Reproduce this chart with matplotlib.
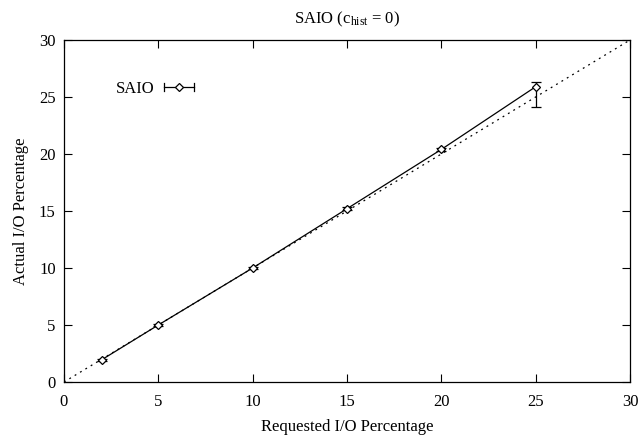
import matplotlib
matplotlib.use("Agg")
import matplotlib.pyplot as plt
from matplotlib.legend_handler import HandlerBase
from matplotlib.lines import Line2D
import numpy as np

plt.rcParams['font.family'] = ['Liberation Serif', 'DejaVu Serif']
plt.rcParams['mathtext.fontset'] = 'custom'
plt.rcParams['mathtext.rm'] = 'Liberation Serif'
plt.rcParams['mathtext.it'] = 'Liberation Serif'

requested = [2, 5, 10, 15, 20, 25]
actual = [1.95, 5.0, 10.0, 15.2, 20.4, 25.9]
err_low = [1.85, 4.9, 9.9, 15.05, 20.3, 24.1]
err_high = [2.05, 5.1, 10.1, 15.35, 20.5, 26.3]
ideal = [0, 30]
ticks = [0, 5, 10, 15, 20, 25, 30]

fig = plt.figure(figsize=(6.38, 4.37), dpi=100)
ax = fig.add_axes([0.1003, 0.1259, 0.8872, 0.7826])

ax.plot(ideal, ideal, color='black', linestyle=(0, (1.5, 3.5)), linewidth=0.9)

yerr = [np.array(actual) - np.array(err_low), np.array(err_high) - np.array(actual)]
ax.errorbar(requested, actual, yerr=yerr, color='black', linewidth=0.9,
            marker='D', markersize=4.5, markerfacecolor='white', markeredgecolor='black',
            markeredgewidth=0.9, capsize=3.5, elinewidth=0.9, capthick=0.9)


class ErrLegendHandler(HandlerBase):
    def create_artists(self, legend, orig_handle, xdescent, ydescent, width, height, fontsize, trans):
        y = height / 2.0 - ydescent
        x0, x1 = -xdescent, -xdescent + width
        line = Line2D([x0, x1], [y, y], color='black', linewidth=0.9, transform=trans)
        c0 = Line2D([x0, x0], [y - 3, y + 3], color='black', linewidth=0.9, transform=trans)
        c1 = Line2D([x1, x1], [y - 3, y + 3], color='black', linewidth=0.9, transform=trans)
        m = Line2D([(x0 + x1) / 2], [y], marker='D', markersize=4.5, markerfacecolor='white',
                   markeredgecolor='black', markeredgewidth=0.9, linestyle='none', transform=trans)
        return [line, c0, c1, m]


h = Line2D([], [])
ax.legend([h], ['SAIO'], handler_map={Line2D: ErrLegendHandler()}, loc='upper left',
          bbox_to_anchor=(0.065, 0.925), frameon=False, markerfirst=False,
          handlelength=1.8, handletextpad=0.6, fontsize=12)

ax.set_xlim(0, 30)
ax.set_ylim(0, 30)
ax.set_xticks(ticks)
ax.set_yticks(ticks)
ax.tick_params(direction='in', length=6, width=0.8, top=True, right=True, labelsize=12)
ax.tick_params(axis='x', pad=9)
ax.tick_params(axis='y', pad=6)
for s in ax.spines.values():
    s.set_linewidth(0.9)

ax.set_xlabel('Requested I/O Percentage', fontsize=12, labelpad=6)
ax.set_ylabel('Actual I/O Percentage', fontsize=12, labelpad=7)
ax.set_title(r'SAIO (c$_{\mathrm{hist}}$ = 0)', fontsize=12, pad=12)

fig.savefig('out.png', dpi=100)
